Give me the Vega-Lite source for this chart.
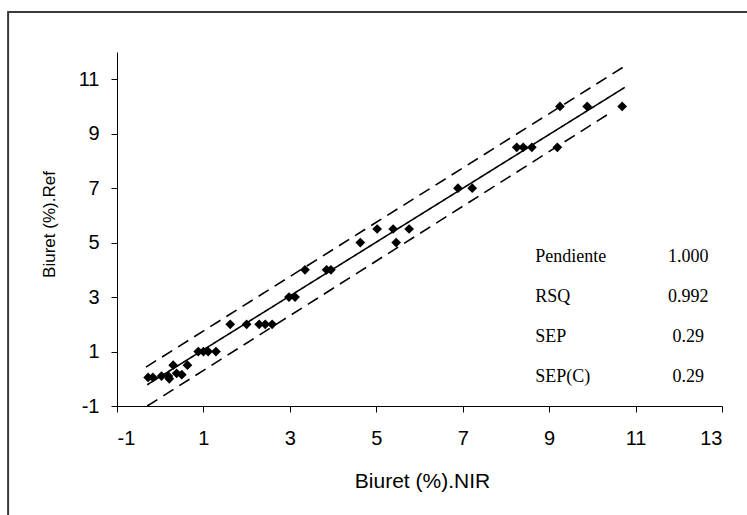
{
  "$schema": "https://vega.github.io/schema/vega-lite/v6.json",
  "autosize": "none",
  "width": 605,
  "height": 354,
  "padding": {"left": 117, "top": 52, "right": 25, "bottom": 109},
  "background": "white",
  "config": {
    "view": {"stroke": null},
    "axis": {
      "grid": false,
      "domainColor": "black",
      "tickColor": "black",
      "tickSize": 6,
      "labelColor": "black",
      "labelFont": "Liberation Sans",
      "labelFontSize": 20,
      "titleColor": "black",
      "titleFont": "Liberation Sans",
      "titleFontWeight": "normal"
    }
  },
  "datasets": {
    "points": [
      {"nir": -0.28, "ref": 0.05}, {"nir": -0.17, "ref": 0.05}, {"nir": 0.03, "ref": 0.1},
      {"nir": 0.19, "ref": 0.1}, {"nir": 0.21, "ref": 0.0}, {"nir": 0.3, "ref": 0.5},
      {"nir": 0.38, "ref": 0.2}, {"nir": 0.5, "ref": 0.15}, {"nir": 0.63, "ref": 0.5},
      {"nir": 0.88, "ref": 1.0}, {"nir": 1.0, "ref": 1.0}, {"nir": 1.11, "ref": 1.0},
      {"nir": 1.29, "ref": 1.0}, {"nir": 1.62, "ref": 2.0}, {"nir": 2.0, "ref": 2.0},
      {"nir": 2.29, "ref": 2.0}, {"nir": 2.43, "ref": 2.0}, {"nir": 2.59, "ref": 2.0},
      {"nir": 2.98, "ref": 3.0}, {"nir": 3.12, "ref": 3.0}, {"nir": 3.35, "ref": 4.0},
      {"nir": 3.85, "ref": 4.0}, {"nir": 3.95, "ref": 4.0}, {"nir": 4.63, "ref": 5.0},
      {"nir": 5.02, "ref": 5.5}, {"nir": 5.39, "ref": 5.5}, {"nir": 5.76, "ref": 5.5},
      {"nir": 5.46, "ref": 5.0}, {"nir": 6.89, "ref": 7.0}, {"nir": 7.22, "ref": 7.0},
      {"nir": 8.25, "ref": 8.5}, {"nir": 8.4, "ref": 8.5}, {"nir": 8.6, "ref": 8.5},
      {"nir": 9.19, "ref": 8.5}, {"nir": 9.25, "ref": 10.0}, {"nir": 9.88, "ref": 10.0},
      {"nir": 10.69, "ref": 10.0}
    ],
    "lines": [
      {"series": "fit", "nir": -0.3, "ref": -0.22},
      {"series": "fit", "nir": 10.75, "ref": 10.7},
      {"series": "upper", "nir": -0.33, "ref": 0.43},
      {"series": "upper", "nir": 10.72, "ref": 11.45},
      {"series": "lower", "nir": -0.3, "ref": -1.0},
      {"series": "lower", "nir": 10.41, "ref": 9.76}
    ],
    "stats": [
      {"stat": "Pendiente", "value": "1.000", "row": 4.47},
      {"stat": "RSQ", "value": "0.992", "row": 3.0},
      {"stat": "SEP", "value": "0.29", "row": 1.53},
      {"stat": "SEP(C)", "value": "0.29", "row": 0.06}
    ]
  },
  "layer": [
    {
      "data": {"values": [{}]},
      "mark": {"type": "rect", "filled": false, "stroke": "#3a3a3a", "strokeWidth": 2, "clip": false},
      "encoding": {
        "x": {"datum": -3.52, "type": "quantitative", "scale": {"domain": [-1, 13], "nice": false, "zero": false}},
        "x2": {"datum": 40},
        "y": {"datum": 13.47, "type": "quantitative", "scale": {"domain": [-1, 12], "nice": false, "zero": false}},
        "y2": {"datum": -20}
      }
    },
    {
      "data": {"name": "lines"},
      "mark": {"type": "line", "color": "black", "strokeWidth": 1.6},
      "encoding": {
        "x": {"field": "nir", "type": "quantitative"},
        "y": {"field": "ref", "type": "quantitative"},
        "detail": {"field": "series"},
        "strokeDash": {
          "field": "series", "type": "nominal",
          "scale": {"domain": ["fit", "upper", "lower"], "range": [[1, 0], [12, 7], [12, 7]]},
          "legend": null
        }
      }
    },
    {
      "data": {"name": "points"},
      "mark": {"type": "point", "shape": "diamond", "filled": true, "color": "black", "size": 95, "opacity": 1},
      "encoding": {
        "x": {
          "field": "nir", "type": "quantitative",
          "scale": {"domain": [-1, 13], "nice": false, "zero": false},
          "axis": {
            "values": [-1, 1, 3, 5, 7, 9, 11, 13],
            "labelExpr": "'' + datum.value",
            "labelFontSize": 20,
            "title": "Biuret (%).NIR",
            "titleFontSize": 21,
            "titleBaseline": "alphabetic",
            "titleY": 81,
            "titleX": 305,
            "labelPadding": 16
          }
        },
        "y": {
          "field": "ref", "type": "quantitative",
          "scale": {"domain": [-1, 12], "nice": false, "zero": false},
          "axis": {
            "values": [-1, 1, 3, 5, 7, 9, 11],
            "labelExpr": "'' + datum.value",
            "labelFontSize": 20,
            "title": "Biuret (%).Ref",
            "titleFontSize": 17,
            "titleBaseline": "alphabetic",
            "titleX": -63,
            "titleY": 172,
            "labelPadding": 12
          }
        }
      }
    },
    {
      "data": {"name": "stats"},
      "mark": {"type": "text", "align": "left", "baseline": "middle", "font": "Liberation Serif", "fontSize": 18, "color": "black"},
      "encoding": {
        "x": {"datum": 8.68, "type": "quantitative"},
        "y": {"field": "row", "type": "quantitative"},
        "text": {"field": "stat"}
      }
    },
    {
      "data": {"name": "stats"},
      "mark": {"type": "text", "align": "center", "baseline": "middle", "font": "Liberation Serif", "fontSize": 18, "color": "black"},
      "encoding": {
        "x": {"datum": 12.22, "type": "quantitative"},
        "y": {"field": "row", "type": "quantitative"},
        "text": {"field": "value"}
      }
    }
  ]
}
